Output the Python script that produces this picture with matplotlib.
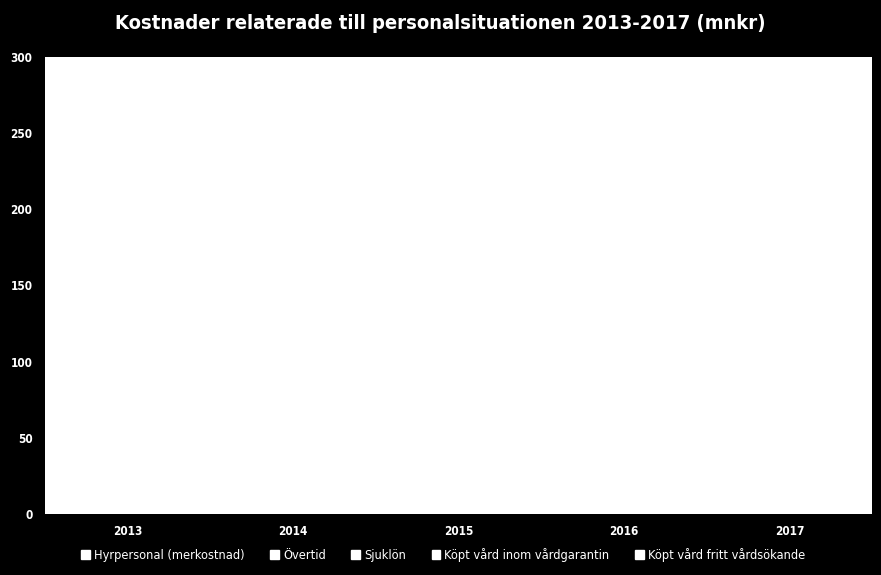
import numpy as np
import matplotlib.pyplot as plt
from matplotlib.patches import Patch

years = ['2013', '2014', '2015', '2016', '2017']
series = ['Hyrpersonal (merkostnad)', 'Övertid', 'Sjuklön',
          'Köpt vård inom vårdgarantin', 'Köpt vård fritt vårdsökande']
# bars are drawn white on white in the original, values are estimates
hyrpersonal = [40, 55, 70, 85, 95]
overtid = [30, 32, 35, 38, 40]
sjuklon = [45, 47, 50, 52, 55]
vardgaranti = [10, 15, 20, 25, 30]
fritt_val = [5, 6, 7, 8, 9]
values = [hyrpersonal, overtid, sjuklon, vardgaranti, fritt_val]

plt.rcParams['font.family'] = ['DejaVu Sans']
plt.rcParams['font.stretch'] = 'condensed'

fig = plt.figure(figsize=(8.81, 5.75), dpi=100, facecolor='black')
ax = fig.add_axes([0.051, 0.106, 0.939, 0.795])
ax.set_facecolor('white')

x = np.arange(len(years))
bottom = np.zeros(len(years))
for name, vals in zip(series, values):
    ax.bar(x, vals, 0.6, bottom=bottom, color='white', edgecolor='white', label=name)
    bottom += np.array(vals)

ax.set_xlim(-0.5, len(years) - 0.5)
ax.set_ylim(0, 300)
ax.set_yticks(range(0, 301, 50))
ax.set_xticks(x)
ax.set_xticklabels(years, fontweight='bold', fontstretch='condensed')
for s in ax.spines.values():
    s.set_visible(False)
ax.tick_params(axis='both', colors='white', labelcolor='white', labelsize=8.5, length=0)
ax.tick_params(axis='x', pad=8)
ax.tick_params(axis='y', pad=9)
for t in ax.get_yticklabels():
    t.set_fontweight('bold')
    t.set_fontstretch('condensed')

fig.suptitle('Kostnader relaterade till personalsituationen 2013-2017 (mnkr)',
             color='white', fontsize=14.5, fontweight='bold', fontstretch='condensed',
             x=0.5, y=0.975)

handles = [Patch(facecolor='white', edgecolor='white') for _ in series]
leg = fig.legend(handles, series, loc='lower center', ncol=5, frameon=False,
                 bbox_to_anchor=(0.503, 0.002), handlelength=0.7,
                 handleheight=0.7, handletextpad=0.3, columnspacing=2.0,
                 prop={'size': 9.2, 'stretch': 'condensed', 'family': 'DejaVu Sans'})
for t in leg.get_texts():
    t.set_color('white')

fig.savefig('out.png', dpi=100, facecolor='black')
